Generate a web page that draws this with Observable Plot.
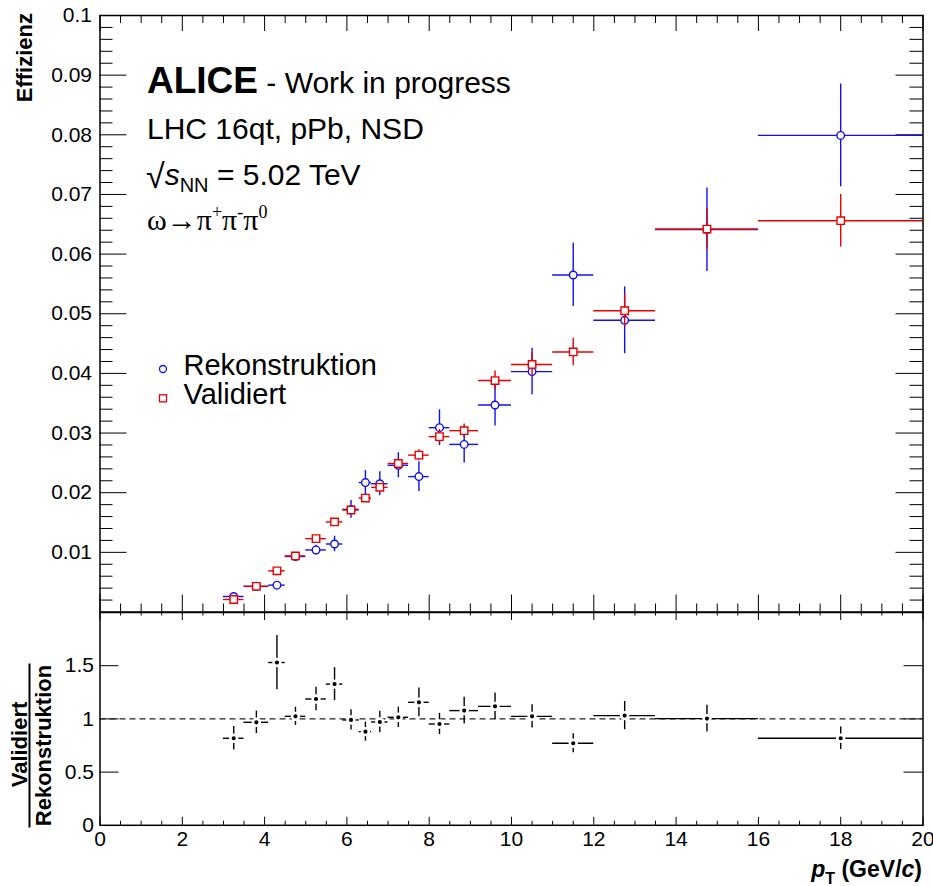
<!DOCTYPE html>
<html><head><meta charset="utf-8">
<script src="https://cdn.jsdelivr.net/npm/d3@7"></script>
<script src="https://cdn.jsdelivr.net/npm/@observablehq/plot@0.6"></script>
<style>
body{margin:0;background:#fff;}
#wrap{position:relative;width:933px;height:886px;overflow:hidden;background:#fff;}
#wrap svg{position:absolute;left:0;overflow:visible;}
</style></head><body><div id="wrap"></div>
<script>
// ---- data ----
const binLow  = [3.0, 3.5, 4.1, 4.5, 5.0, 5.5, 5.9, 6.3, 6.6, 7.0, 7.5, 8.0, 8.5, 9.2, 10, 11, 12, 13.5, 16];
const binHigh = [3.5, 4.1, 4.5, 5.0, 5.5, 5.9, 6.3, 6.6, 7.0, 7.5, 8.0, 8.5, 9.2, 10, 11, 12, 13.5, 16, 20];
const ptCenter = [3.25, 3.8, 4.3, 4.75, 5.25, 5.7, 6.1, 6.45, 6.8, 7.25, 7.75, 8.25, 8.85, 9.6, 10.5, 11.5, 12.75, 14.75, 18];
const effReco = [0.0026, 0.0043, 0.0045, 0.0093, 0.0104, 0.0114, 0.0172, 0.0217, 0.0215, 0.0246, 0.0227, 0.0309, 0.0281, 0.0347, 0.0403, 0.0565, 0.0489, 0.0641, 0.0799];
const errReco = [0.0002, 0.0003, 0.0004, 0.0006, 0.0008, 0.0013, 0.0015, 0.0020, 0.0020, 0.0021, 0.0025, 0.0030, 0.0031, 0.0035, 0.0039, 0.0053, 0.0056, 0.0070, 0.0086];
const effVal  = [0.0021, 0.0043, 0.0069, 0.0094, 0.0123, 0.0151, 0.0171, 0.0191, 0.0209, 0.0249, 0.0263, 0.0294, 0.0304, 0.0388, 0.0415, 0.0436, 0.0505, 0.0642, 0.0656];
const errVal  = [0.0002, 0.0002, 0.0003, 0.0003, 0.0004, 0.0005, 0.0006, 0.0006, 0.0007, 0.0008, 0.0009, 0.0012, 0.0011, 0.0016, 0.0019, 0.0023, 0.0027, 0.0034, 0.0044];
const ratio    = [0.818, 0.968, 1.53, 1.024, 1.187, 1.327, 0.99, 0.88, 0.971, 1.015, 1.156, 0.952, 1.078, 1.118, 1.024, 0.771, 1.031, 1.003, 0.818];
const errRatio = [0.11, 0.105, 0.255, 0.085, 0.11, 0.155, 0.095, 0.09, 0.10, 0.095, 0.135, 0.10, 0.125, 0.125, 0.11, 0.09, 0.133, 0.125, 0.105];
const seriesNames = ["Rekonstruktion", "Validiert"];
const xMajor = [0, 2, 4, 6, 8, 10, 12, 14, 16, 18, 20];
const xTickLabels = ["0", "2", "4", "6", "8", "10", "12", "14", "16", "18", "20"];
const yTopMajor = [0.01, 0.02, 0.03, 0.04, 0.05, 0.06, 0.07, 0.08, 0.09, 0.1];
const yTopTickLabels = ["0.01", "0.02", "0.03", "0.04", "0.05", "0.06", "0.07", "0.08", "0.09", "0.1"];
const yBotMajor = [0, 0.5, 1, 1.5];
const yBotTickLabels = ["0", "0.5", "1", "1.5"];

// ---- layout ----
const FONT = '"Liberation Sans", Arial, Helvetica, sans-serif';
const BLUE = "#1010ee", RED = "#e80000";
const W = 933, mL = 99.5, mR = 10.5;
const frameW = W - mL - mR;
const topH = 612, topMT = 15, topMB = 0.5, topFH = topH - topMT - topMB;
const botTop = 611.5, botH = 886 - botTop, botMT = 0, botMB = botH - 212.8, botFH = botH - botMT - botMB;

const xMinor = d3.range(0, 20.001, 0.5).filter(v => v % 2 !== 0);
const yTopMinor = d3.range(1, 50).map(k => k * 0.002).filter((v, k) => (k + 1) % 5 !== 0);

const rows = ptCenter.map((x, i) => ({
  x, lo: binLow[i], hi: binHigh[i],
  reco: effReco[i], recoErr: errReco[i],
  val: effVal[i], valErr: errVal[i],
  r: ratio[i], rErr: errRatio[i]
}));

const wrap = document.getElementById("wrap");
const lw = 1.4;

const topPlot = Plot.plot({
  width: W, height: topH,
  marginLeft: mL, marginRight: mR, marginTop: topMT, marginBottom: topMB,
  x: {domain: [0, 20], axis: null},
  y: {domain: [0, 0.1], axis: null},
  style: {fontFamily: FONT, background: "transparent", overflow: "visible"},
  marks: [
    Plot.tickX(xMinor, {x: d => d, insetTop: topFH - 8, stroke: "black", strokeWidth: 1}),
    Plot.tickX(xMajor, {x: d => d, insetTop: topFH - 17, stroke: "black", strokeWidth: 1}),
    Plot.tickX(xMinor, {x: d => d, insetBottom: topFH - 8, stroke: "black", strokeWidth: 1}),
    Plot.tickX(xMajor, {x: d => d, insetBottom: topFH - 16, stroke: "black", strokeWidth: 1}),
    Plot.tickY(yTopMinor, {y: d => d, insetRight: frameW - 13, stroke: "black", strokeWidth: 1}),
    Plot.tickY(yTopMajor, {y: d => d, insetRight: frameW - 27, stroke: "black", strokeWidth: 1}),
    Plot.tickY(yTopMinor, {y: d => d, insetLeft: frameW - 13, stroke: "black", strokeWidth: 1}),
    Plot.tickY(yTopMajor, {y: d => d, insetLeft: frameW - 27, stroke: "black", strokeWidth: 1}),
    Plot.text(yTopMajor, {y: d => d, text: (d, i) => yTopTickLabels[i], frameAnchor: "left", textAnchor: "end", dx: -8, fontSize: 21, fill: "black"}),
    Plot.ruleY(rows, {y: "reco", x1: "lo", x2: "hi", stroke: BLUE, strokeWidth: lw}),
    Plot.ruleX(rows, {x: "x", y1: d => d.reco - d.recoErr, y2: d => d.reco + d.recoErr, stroke: BLUE, strokeWidth: lw}),
    Plot.dot(rows, {x: "x", y: "reco", r: 3.8, stroke: BLUE, fill: "white", strokeWidth: lw}),
    Plot.ruleY(rows, {y: "val", x1: "lo", x2: "hi", stroke: RED, strokeWidth: lw}),
    Plot.ruleX(rows, {x: "x", y1: d => d.val - d.valErr, y2: d => d.val + d.valErr, stroke: RED, strokeWidth: lw}),
    Plot.dot(rows, {x: "x", y: "val", symbol: "square", r: 4.2, stroke: RED, fill: "white", strokeWidth: lw}),
    Plot.frame({stroke: "black", strokeWidth: 1.5})
  ]
});
topPlot.style.top = "0px";
wrap.appendChild(topPlot);

const botPlot = Plot.plot({
  width: W, height: botH,
  marginLeft: mL, marginRight: mR, marginTop: botMT, marginBottom: botMB,
  x: {domain: [0, 20], axis: null},
  y: {domain: [0, 2], axis: null},
  style: {fontFamily: FONT, background: "transparent", overflow: "visible"},
  marks: [
    Plot.tickX(xMinor, {x: d => d, insetTop: botFH - 4, stroke: "black", strokeWidth: 1}),
    Plot.tickX(xMajor, {x: d => d, insetTop: botFH - 8, stroke: "black", strokeWidth: 1}),
    Plot.tickX(xMinor, {x: d => d, insetBottom: botFH - 3.5, stroke: "black", strokeWidth: 1}),
    Plot.tickX(xMajor, {x: d => d, insetBottom: botFH - 8, stroke: "black", strokeWidth: 1}),
    Plot.tickY(yBotMajor.slice(1), {y: d => d, insetRight: frameW - 19, stroke: "black", strokeWidth: 1}),
    Plot.tickY(yBotMajor.slice(1), {y: d => d, insetLeft: frameW - 19, stroke: "black", strokeWidth: 1}),
    Plot.text(yBotMajor, {y: d => d, text: (d, i) => yBotTickLabels[i], frameAnchor: "left", textAnchor: "end", dx: -6, fontSize: 21, fill: "black"}),
    Plot.text(xMajor, {x: d => d, text: (d, i) => xTickLabels[i], frameAnchor: "bottom", lineAnchor: "top", dy: 6, fontSize: 21, fill: "black"}),
    Plot.ruleY([1], {stroke: "#222", strokeWidth: 1.2, strokeDasharray: "6,4"}),
    Plot.ruleY(rows, {y: "r", x1: "lo", x2: "hi", stroke: "black", strokeWidth: lw}),
    Plot.ruleX(rows, {x: "x", y1: d => d.r - d.rErr, y2: d => d.r + d.rErr, stroke: "black", strokeWidth: lw}),
    Plot.dot(rows, {x: "x", y: "r", r: 3.4, fill: "black", stroke: "white", strokeWidth: 2.6}),
    Plot.frame({stroke: "black", strokeWidth: 1.5})
  ]
});
botPlot.style.top = botTop + "px";
wrap.appendChild(botPlot);

// ---- texts (real text elements) ----
const ts = d3.select(topPlot);
const g = ts.append("g").attr("font-family", FONT).attr("fill", "black").attr("text-anchor", "start").attr("font-size", 30);
const t1 = g.append("text").attr("x", 147).attr("y", 93).attr("text-anchor", "start");
t1.append("tspan").attr("font-weight", "bold").attr("font-size", 37).text("ALICE");
t1.append("tspan").attr("font-size", 30).text(" - Work in progress");
g.append("text").attr("x", 147).attr("y", 138.5).attr("font-size", 30).attr("text-anchor", "start").text("LHC 16qt, pPb, NSD");
const t3 = g.append("text").attr("x", 146).attr("y", 185).attr("font-size", 30).attr("text-anchor", "start");
t3.append("tspan").attr("font-size", 34).attr("dy", 3).text("\u221A");
t3.append("tspan").attr("font-style", "italic").attr("dy", -3).text("s");
t3.append("tspan").attr("font-size", 20).attr("dy", 7).text("NN");
t3.append("tspan").attr("dy", -7).text(" = 5.02 TeV");
const t4 = g.append("text").attr("x", 147).attr("y", 230).attr("font-size", 30).attr("text-anchor", "start")
  .attr("font-family", '"Liberation Serif", "Times New Roman", serif');
t4.append("tspan").text("\u03C9\u2192\u03C0");
t4.append("tspan").attr("font-size", 18).attr("dy", -12).text("+");
t4.append("tspan").attr("dy", 12).text("\u03C0");
t4.append("tspan").attr("font-size", 18).attr("dy", -12).text("-");
t4.append("tspan").attr("dy", 12).text("\u03C0");
t4.append("tspan").attr("font-size", 18).attr("dy", -12).text("0");

// legend
g.append("circle").attr("cx", 163).attr("cy", 369).attr("r", 3.5).attr("fill", "none").attr("stroke", BLUE).attr("stroke-width", 1.3);
g.append("rect").attr("x", 159.5).attr("y", 394.8).attr("width", 7).attr("height", 7).attr("fill", "none").attr("stroke", RED).attr("stroke-width", 1.3);
g.append("text").attr("x", 183.5).attr("y", 375).attr("font-size", 29).attr("text-anchor", "start").text(seriesNames[0]);
g.append("text").attr("x", 183.5).attr("y", 404).attr("font-size", 29).attr("text-anchor", "start").text(seriesNames[1]);

// y title top
g.append("text").attr("transform", "translate(32,13) rotate(-90)").attr("text-anchor", "end")
  .attr("font-weight", "bold").attr("font-size", 22).text("Effizienz");

// bottom titles
const bs = d3.select(botPlot);
const gb = bs.append("g").attr("font-family", FONT).attr("fill", "black").attr("font-weight", "bold");
gb.append("text").attr("transform", "translate(27,132.5) rotate(-90)").attr("text-anchor", "middle").attr("font-size", 22).text(seriesNames[1]);
gb.append("line").attr("x1", 29.5).attr("x2", 29.5).attr("y1", 51.5).attr("y2", 215.5).attr("stroke", "black").attr("stroke-width", 2);
gb.append("text").attr("transform", "translate(50.5,133.5) rotate(-90)").attr("text-anchor", "middle").attr("font-size", 22).text(seriesNames[0]);
const xt = gb.append("text").attr("x", 922).attr("y", 265).attr("text-anchor", "end").attr("font-size", 23);
xt.append("tspan").attr("font-style", "italic").text("p");
xt.append("tspan").attr("font-size", 16).attr("dy", 7).text("T");
xt.append("tspan").attr("dy", -7).text(" (GeV/");
xt.append("tspan").attr("font-style", "italic").text("c");
xt.append("tspan").text(")");
</script>
</body></html>
